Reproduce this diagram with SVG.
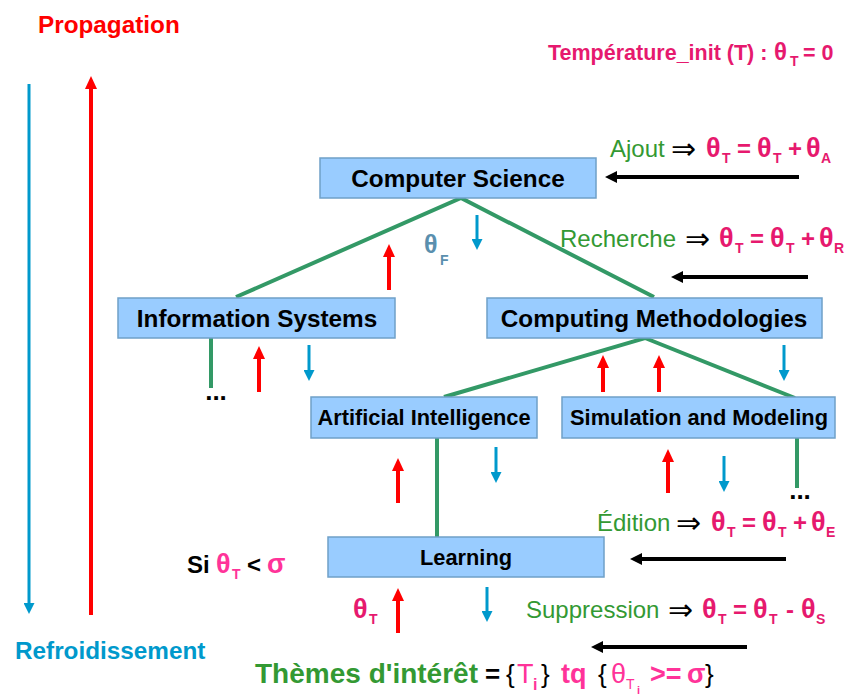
<svg xmlns="http://www.w3.org/2000/svg" width="846" height="696" viewBox="0 0 846 696">
<style>
text{font-family:"Liberation Sans","DejaVu Sans",Arial,sans-serif}
.node rect{fill:#99ccff;stroke:#6fa0c8;stroke-width:1.5}
.lbl{font-weight:bold;font-size:24.3px;fill:#000;text-anchor:middle}
.lbl2{font-weight:bold;font-size:21.8px;fill:#000;text-anchor:middle}
.tree{stroke:#339966;stroke-width:4;fill:none}
.red{stroke:#ff0000;stroke-width:4;marker-end:url(#hr)}
.blue{stroke:#0099cc;stroke-width:3;marker-end:url(#hb)}
.blk{stroke:#000;stroke-width:4;marker-end:url(#hk)}
.gr{fill:#339933;font-size:24px}
.op{fill:#000;font-size:30px;font-family:"DejaVu Sans",sans-serif}
.mg{fill:#e6196e;font-size:24px;font-weight:bold}
.th{fill:#e6196e;font-size:27px;font-weight:bold}
.mgs{fill:#e6196e;font-size:14px;font-weight:bold}
.pk{fill:#ff3399;font-size:27px;font-weight:bold}
.pks{fill:#ff3399;font-size:14px;font-weight:bold}
.dots{font-weight:bold;font-size:26px;fill:#000;text-anchor:middle}
</style>
<defs>
<marker id="hr" markerUnits="userSpaceOnUse" markerWidth="13" markerHeight="12" refX="1" refY="6" orient="auto"><path d="M0,0 L13,6 L0,12 z" fill="#ff0000"/></marker>
<marker id="hb" markerUnits="userSpaceOnUse" markerWidth="11" markerHeight="11" refX="1" refY="5.5" orient="auto"><path d="M0,0 L11,5.5 L0,11 z" fill="#0099cc"/></marker>
<marker id="hk" markerUnits="userSpaceOnUse" markerWidth="12" markerHeight="12" refX="1" refY="6" orient="auto"><path d="M0,0 L12,6 L0,12 z" fill="#000"/></marker>
</defs>

<g id="connectors">
<polyline class="tree" points="236,297 461,198 654,297"/>
<polyline class="tree" points="444,397 645,338 795,398"/>
<line class="tree" x1="211" y1="338" x2="211" y2="388"/>
<line class="tree" x1="437" y1="438" x2="437" y2="537"/>
<line class="tree" x1="797" y1="438" x2="797" y2="488"/>

<line class="red" x1="389" y1="290" x2="389" y2="256"/>
<line class="red" x1="259" y1="392" x2="259" y2="358"/>
<line class="red" x1="603" y1="392" x2="603" y2="367"/>
<line class="red" x1="659" y1="392" x2="659" y2="367"/>
<line class="red" x1="668" y1="493" x2="668" y2="461"/>
<line class="red" x1="398" y1="503" x2="398" y2="470"/>
<line class="red" x1="398" y1="633" x2="398" y2="600"/>
<line class="red" x1="91" y1="615" x2="91" y2="88"/>

<line class="blue" x1="477" y1="215" x2="477" y2="240"/>
<line class="blue" x1="309" y1="345" x2="309" y2="371"/>
<line class="blue" x1="784" y1="345" x2="784" y2="371"/>
<line class="blue" x1="496" y1="447" x2="496" y2="473"/>
<line class="blue" x1="724" y1="456" x2="724" y2="482"/>
<line class="blue" x1="487" y1="587" x2="487" y2="612"/>
<line class="blue" x1="29" y1="84" x2="29" y2="604"/>

<line class="blk" x1="799" y1="177" x2="616" y2="177"/>
<line class="blk" x1="808" y1="277" x2="682" y2="277"/>
<line class="blk" x1="786" y1="559" x2="641" y2="559"/>
<line class="blk" x1="747" y1="647" x2="602" y2="647"/>
</g>

<g id="node-cs" class="node"><rect x="320" y="158" width="276" height="40"/><text class="lbl" x="458" y="187">Computer Science</text></g>
<g id="node-is" class="node"><rect x="118" y="298" width="277" height="40"/><text class="lbl" x="257" y="327">Information Systems</text></g>
<g id="node-cm" class="node"><rect x="487" y="298" width="335" height="40"/><text class="lbl" x="654" y="327">Computing Methodologies</text></g>
<g id="node-ai" class="node"><rect x="311" y="397" width="226" height="41"/><text class="lbl2" x="424" y="425">Artificial Intelligence</text></g>
<g id="node-sm" class="node"><rect x="562" y="397" width="273" height="41"/><text class="lbl2" x="699" y="425">Simulation and Modeling</text></g>
<g id="node-learn" class="node"><rect x="328" y="537" width="276" height="40"/><text class="lbl2" x="466" y="565">Learning</text></g>

<text class="dots" x="216" y="400">...</text>
<text class="dots" x="800" y="499">...</text>

<text x="38" y="33" font-size="24.3" font-weight="bold" fill="#ff0000">Propagation</text>
<text x="15" y="659" font-size="24.3" font-weight="bold" fill="#0099cc">Refroidissement</text>

<text x="548" y="60" font-size="21.5" font-weight="bold" fill="#e6196e">Température_init (T) : </text>
<text x="774" y="60" font-size="24" font-weight="bold" fill="#e6196e">θ</text>
<text x="790" y="66" class="mgs">T</text>
<text x="803" y="60" font-size="21.5" font-weight="bold" fill="#e6196e">= 0</text>

<text x="424" y="253" font-size="25" font-weight="bold" fill="#5a8fae">θ</text>
<text x="440" y="265" font-size="14" font-weight="bold" fill="#5a8fae">F</text>

<g id="ajout">
<text class="gr" x="610" y="157">Ajout</text><text class="op" x="671" y="159">⇒</text>
<text class="th" x="706" y="157">θ</text><text class="mgs" x="722" y="163">T</text>
<text class="mg" x="737" y="157">=</text><text class="th" x="757" y="157">θ</text><text class="mgs" x="773" y="163">T</text>
<text class="mg" x="788" y="157">+</text><text class="th" x="806" y="157">θ</text><text class="mgs" x="821" y="163">A</text>
</g>
<g id="recherche">
<text class="gr" x="560" y="247">Recherche</text><text class="op" x="685" y="249">⇒</text>
<text class="th" x="719" y="247">θ</text><text class="mgs" x="735" y="253">T</text>
<text class="mg" x="750" y="247">=</text><text class="th" x="770" y="247">θ</text><text class="mgs" x="786" y="253">T</text>
<text class="mg" x="801" y="247">+</text><text class="th" x="819" y="247">θ</text><text class="mgs" x="834" y="253">R</text>
</g>
<g id="edition">
<text class="gr" x="597" y="531">Édition</text><text class="op" x="676" y="533">⇒</text>
<text class="th" x="711" y="531">θ</text><text class="mgs" x="727" y="537">T</text>
<text class="mg" x="742" y="531">=</text><text class="th" x="762" y="531">θ</text><text class="mgs" x="778" y="537">T</text>
<text class="mg" x="793" y="531">+</text><text class="th" x="811" y="531">θ</text><text class="mgs" x="826" y="537">E</text>
</g>
<g id="suppression">
<text class="gr" x="526" y="618">Suppression</text><text class="op" x="668" y="620">⇒</text>
<text class="th" x="702" y="618">θ</text><text class="mgs" x="718" y="624">T</text>
<text class="mg" x="733" y="618">=</text><text class="th" x="753" y="618">θ</text><text class="mgs" x="769" y="624">T</text>
<text class="mg" x="786" y="618">-</text><text class="th" x="801" y="618">θ</text><text class="mgs" x="816" y="624">S</text>
</g>

<g id="si">
<text x="187" y="573" font-size="24" font-weight="bold" fill="#000">Si</text>
<text class="pk" x="216" y="573">θ</text><text class="pks" x="232" y="579">T</text>
<text x="247" y="573" font-size="24" font-weight="bold" fill="#000">&lt;</text>
<text class="pk" x="267" y="573">σ</text>
</g>
<text class="th" x="353" y="618">θ</text><text class="mgs" x="369" y="624">T</text>

<g id="themes">
<text x="255" y="683" font-size="27" font-weight="bold" fill="#339933" textLength="223" lengthAdjust="spacingAndGlyphs">Thèmes d'intérêt</text>
<text x="485" y="683" font-size="26" font-weight="bold" fill="#000">=</text>
<text x="506" y="683" font-size="26" fill="#000">{</text>
<text x="517" y="683" font-size="27" fill="#ff3399">T</text>
<text x="533" y="690" font-size="16" font-weight="bold" fill="#ff3399">i</text>
<text x="541" y="683" font-size="26" fill="#000">}</text>
<text x="561" y="683" font-size="27" font-weight="bold" fill="#ff3399">tq</text>
<text x="598" y="683" font-size="26" fill="#000">{</text>
<text x="611" y="683" font-size="27" fill="#ff3399">θ</text>
<text x="626" y="689" font-size="14" fill="#ff3399">T</text>
<text x="637" y="694" font-size="11" font-weight="bold" fill="#ff3399">i</text>
<text x="650" y="683" font-size="27" font-weight="bold" fill="#ff3399">&gt;=</text>
<text x="687" y="683" font-size="27" font-weight="bold" fill="#ff3399">σ</text>
<text x="705" y="683" font-size="26" fill="#000">}</text>
</g>
</svg>
